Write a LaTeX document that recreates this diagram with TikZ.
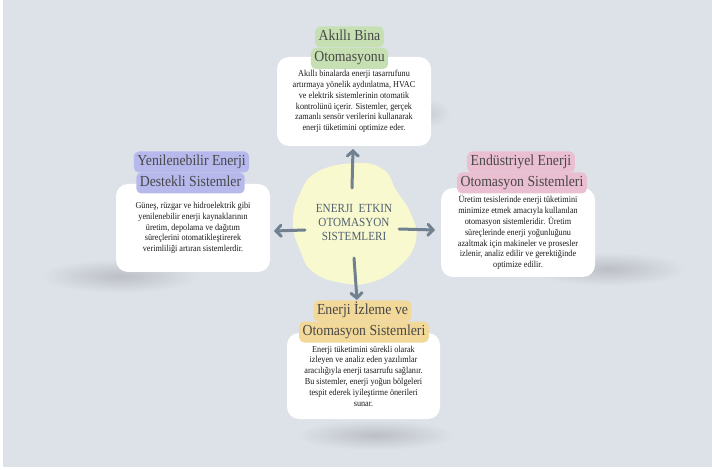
\documentclass[tikz,border=0pt]{standalone}
\usepackage{fontspec}
\setmainfont{Liberation Serif}
\newfontfamily\condfont[FakeStretch=0.9]{Liberation Serif}
\usetikzlibrary{arrows.meta}
\definecolor{bgc}{HTML}{DDE1E8}
\definecolor{shadowc}{HTML}{BCC0C6}
\definecolor{blobc}{HTML}{F9F9CF}
\definecolor{arrowc}{HTML}{728190}
\definecolor{greenc}{HTML}{C6E0B4}
\definecolor{purplec}{HTML}{B7B9EC}
\definecolor{pinkc}{HTML}{EABFD1}
\definecolor{yellowc}{HTML}{F2D999}
\definecolor{titletext}{HTML}{474747}
\definecolor{bodytext}{HTML}{1A1A1A}
\definecolor{centertext}{HTML}{4F5F70}
\begin{document}
\begin{tikzpicture}[x=1pt,y=-1pt,
  wbox/.style={fill=white, rounded corners=12pt, align=center, inner sep=0pt,
    text=bodytext, font=\condfont\fontsize{9.1}{10.8}\selectfont},
  tline/.style={rounded corners=5pt, inner xsep=3.5pt, inner ysep=0pt,
    text height=11pt, text depth=4pt, minimum height=21pt,
    text=titletext, font=\condfont\fontsize{15.3}{16}\selectfont},
  conn/.style={draw=arrowc, line width=3pt, line cap=round,
    -{Straight Barb[length=5pt,width=11pt,line cap=round]}},
  shadowblob/.style={inner color=shadowc, outer color=bgc}]
\useasboundingbox (0,0) rectangle (712,470);
\fill[white] (0,0) rectangle (712,470);
\fill[bgc] (3,0) rectangle (712,467);
% shadows
\shade[shadowblob] (120,276) ellipse [x radius=80pt, y radius=17pt];
\shade[shadowblob] (609,269) ellipse [x radius=77pt, y radius=17pt];
\shade[shadowblob] (375,435) ellipse [x radius=80pt, y radius=15pt];
\shade[inner color=shadowc!60!bgc, outer color=bgc] (428,113) ellipse [x radius=22pt, y radius=14pt];
% central blob
\fill[blobc] plot[smooth cycle, tension=0.75] coordinates {
  (357,163) (384,170) (396,190) (411,214) (416,240) (401,265) (372,282)
  (342,283) (313,272) (300,250) (293,224) (299,196) (317,172)};
\node[text=centertext, align=center, inner sep=0pt,
  font=\condfont\fontsize{12.4}{14}\selectfont] (center) at (354,223)
  {ENERJI\ \ ETKIN\\OTOMASYON\\SISTEMLERI};
% arrow end points
\coordinate (upS) at (352,188);   \coordinate (upE) at (353,149);
\coordinate (leftS) at (305,230); \coordinate (leftE) at (274,231);
\coordinate (rightS) at (399,229);\coordinate (rightE) at (435,230);
\coordinate (downS) at (354,258); \coordinate (downE) at (357,300);
\draw[conn] (upS) -- (upE);
\draw[conn] (leftS) -- (leftE);
\draw[conn] (rightS) -- (rightE);
\draw[conn] (downS) -- (downE);
% white boxes
\node[wbox, minimum width=154pt, minimum height=89pt] (topbox) at (354,101.5)
  {Akıllı binalarda enerji tasarrufunu\\artırmaya yönelik aydınlatma, HVAC\\ve elektrik sistemlerinin otomatik\\kontrolünü içerir. Sistemler, gerçek\\zamanlı sensör verilerini kullanarak\\enerji tüketimini optimize eder.};
\node[wbox, minimum width=154pt, minimum height=88pt] (leftbox) at (193,228)
  {Güneş, rüzgar ve hidroelektrik gibi\\yenilenebilir enerji kaynaklarının\\üretim, depolama ve dağıtım\\süreçlerini otomatikleştirerek\\verimliliği artıran sistemlerdir.};
\node[wbox, minimum width=154pt, minimum height=89pt] (rightbox) at (518,232.5)
  {Üretim tesislerinde enerji tüketimini\\minimize etmek amacıyla kullanılan\\otomasyon sistemleridir. Üretim\\süreçlerinde enerji yoğunluğunu\\azaltmak için makineler ve prosesler\\izlenir, analiz edilir ve gerektiğinde\\optimize edilir.};
\node[wbox, minimum width=153pt, minimum height=86pt] (bottombox) at (363.5,376)
  {Enerji tüketimini sürekli olarak\\izleyen ve analiz eden yazılımlar\\aracılığıyla enerji tasarrufu sağlanır.\\Bu sistemler, enerji yoğun bölgeleri\\tespit ederek iyileştirme önerileri\\sunar.};
% titles
\node[tline, fill=greenc] (topT1) at (349.5,37) {Akıllı Bina};
\node[tline, fill=greenc] (topT2) at (349.5,58.5) {Otomasyonu};
\node[tline, fill=purplec] (leftT1) at (191.5,162) {Yenilenebilir Enerji};
\node[tline, fill=purplec] (leftT2) at (190.5,183) {Destekli Sistemler};
\node[tline, fill=pinkc] (rightT1) at (521,162) {Endüstriyel Enerji};
\node[tline, fill=pinkc] (rightT2) at (522,183) {Otomasyon Sistemleri};
\node[tline, fill=yellowc] (botT1) at (362.5,311) {Enerji İzleme ve};
\node[tline, fill=yellowc] (botT2) at (364,332) {Otomasyon Sistemleri};
\end{tikzpicture}
\end{document}
